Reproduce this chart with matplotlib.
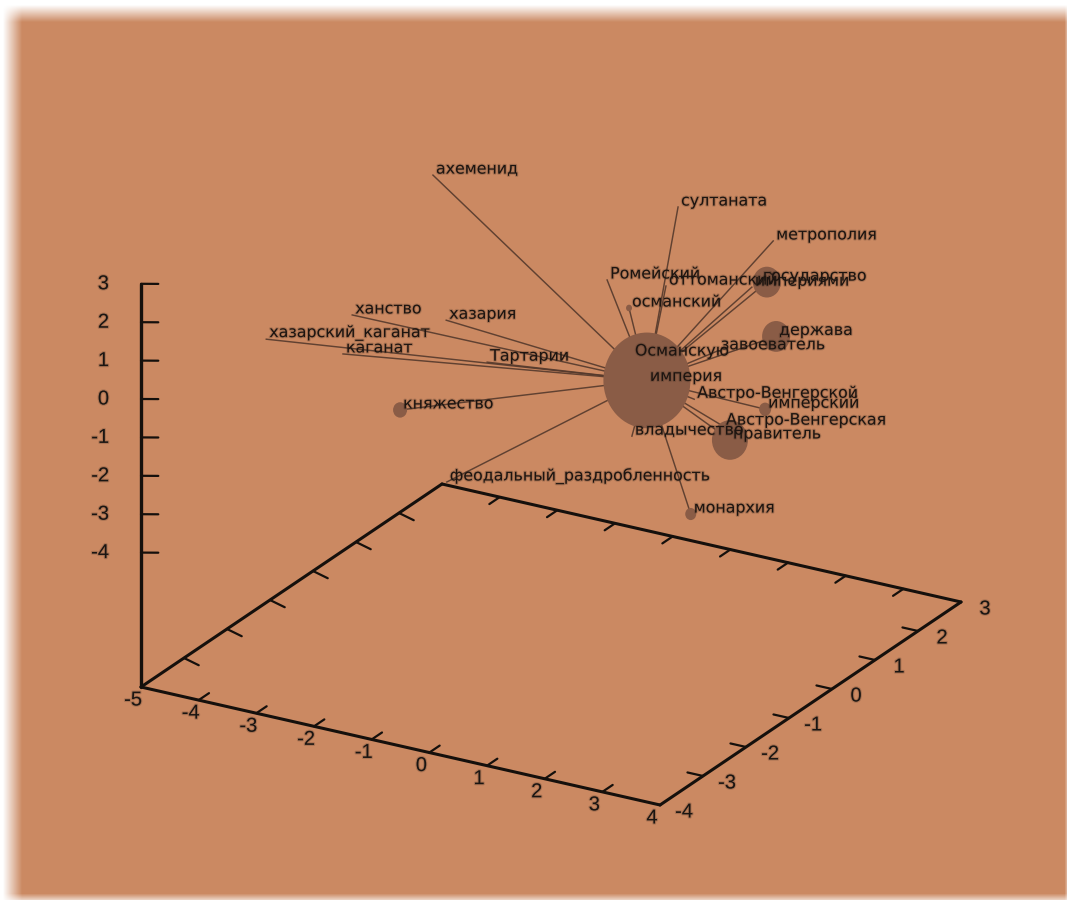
import numpy as np
import matplotlib
matplotlib.use("Agg")
import matplotlib.pyplot as plt
import matplotlib.patheffects as pe
from matplotlib.patches import Ellipse

# word cloud around "империя"
# depth can't be read from a flat picture, so nodes sit on the y=0 plane
words = ["ахеменид", "султаната", "метрополия", "оттоманский", "империями", "государство",
         "Ромейский", "османский", "держава", "завоеватель", "Османскую", "империя",
         "Австро-Венгерской", "имперский", "Австро-Венгерская", "правитель", "владычество",
         "монархия", "феодальный_раздробленность", "княжество", "Тартарии", "хазария",
         "ханство", "хазарский_каганат", "каганат"]
node_x = [-2.92, 1.33, 2.98, 1.12, 2.61, 2.87, 0.10, 0.48, 3.03, 2.02, 0.53, 0.79,
          1.61, 2.84, 2.11, 2.23, 0.53, 1.55, -2.68, -3.49, -1.98, -2.69, -4.32, -5.81, -4.48]
node_z = [3.52, 4.14, 3.82, 2.01, 2.49, 2.71, 1.82, 1.22, 1.35, 0.63, -0.04, -0.56,
          -0.77, -0.61, -1.30, -1.62, -2.10, -3.78, -4.39, -2.79, -1.03, -0.18, -0.60, -1.74, -1.67]
node_size = [1, 1, 1, 1, 1, 14, 1, 3, 14, 1, 1, 43.5, 1, 6, 1, 18, 1, 5.5, 1, 7, 1, 1, 1, 1, 1]
center_x, center_z = 0.79, -0.56

x_ticks = [-5, -4, -3, -2, -1, 0, 1, 2, 3, 4]
y_ticks = [-4, -3, -2, -1, 0, 1, 2, 3]
z_ticks = [-4, -3, -2, -1, 0, 1, 2, 3]
z_floor = -7.5

bg = "#CB8962"
edge_color = "#54392C"
node_color = "#8A5C46"
ink = "#15100c"


def project(x, y, z):
    # gnuplot style oblique view, pixels on the page
    px = 141 + (x + 5) * 57.67 + (y + 4) * 43
    py = 687 + (x + 5) * 13.11 - (y + 4) * 29 - (z - z_floor) * 38.4
    return px, py


def seg(ax, a, b, **kw):
    pa = project(*a)
    pb = project(*b)
    ax.plot([pa[0], pb[0]], [pa[1], pb[1]], solid_capstyle="round", **kw)


def tick_text(ax, px, py, s, ha="center"):
    ax.text(px, py, s, ha=ha, va="center", fontsize=14.5,
            fontfamily=["Liberation Sans", "DejaVu Sans"], color="#1a1512",
            path_effects=soft)


soft = [pe.withStroke(linewidth=1.6, foreground="#3a2a20", alpha=0.22)]

fig = plt.figure(figsize=(10.67, 9), dpi=100, facecolor="white")
ax = fig.add_axes([0, 0, 1, 1])
ax.set_xlim(0, 1067)
ax.set_ylim(900, 0)
ax.axis("off")

# soft white edge of the page
gx = np.arange(1067) + 0.5
gy = np.arange(900) + 0.5
ax_alpha = np.clip((gx - 3) / 19, 0, 1) * np.clip((1067 - gx) / 6 + 0.6, 0, 1)
ay_alpha = np.clip((gy - 5) / 17, 0, 1) * np.clip((900 - gy) / 10 + 0.35, 0, 1)
page = np.zeros((900, 1067, 4))
page[..., :3] = matplotlib.colors.to_rgb(bg)
page[..., 3] = np.outer(ay_alpha, ax_alpha)
ax.imshow(page, extent=(0, 1067, 900, 0), aspect="auto", zorder=0)

# box floor and z axis
axis_kw = dict(color=ink, lw=2.2, zorder=2)
y0, y1 = y_ticks[0], y_ticks[-1]
x0, x1 = x_ticks[0], x_ticks[-1]
seg(ax, (x0, y0, z_floor), (x1, y0, z_floor), **axis_kw)
seg(ax, (x1, y0, z_floor), (x1, y1, z_floor), **axis_kw)
seg(ax, (x1, y1, z_floor), (x0, y1, z_floor), **axis_kw)
seg(ax, (x0, y1, z_floor), (x0, y0, z_floor), **axis_kw)
seg(ax, (x0, y0, z_floor), (x0, y0, z_ticks[-1]), color=ink, lw=2.4, zorder=2)

tick_kw = dict(color=ink, lw=1.6, zorder=2)
for t in x_ticks:
    if t not in (x0, x1):
        seg(ax, (t, y0, z_floor), (t, y0 + 0.24, z_floor), **tick_kw)
        seg(ax, (t, y1, z_floor), (t, y1 - 0.24, z_floor), **tick_kw)
    px, py = project(t, y0, z_floor)
    tick_text(ax, px - 8, py + 13, str(t))
for t in y_ticks:
    if t not in (y0, y1):
        seg(ax, (x0, t, z_floor), (x0 + 0.33, t - 0.1, z_floor), **tick_kw)
        seg(ax, (x1, t, z_floor), (x1 - 0.27, t, z_floor), **tick_kw)
    px, py = project(x1, t, z_floor)
    tick_text(ax, px + 24, py + 7, str(t))
for t in z_ticks:
    seg(ax, (x0, y0, t), (x0 + 0.3, y0, t + 0.1), **tick_kw)
    px, py = project(x0, y0, t)
    tick_text(ax, px - 32, py, str(t), ha="right")

# edges from the hub, then nodes, then labels
cx, cy = project(center_x, 0, center_z)
for wx, wz in zip(node_x, node_z):
    px, py = project(wx, 0, wz)
    ax.plot([cx, px], [cy, py], color=edge_color, lw=1.05, alpha=0.9, zorder=3)

for wx, wz, r in zip(node_x, node_z, node_size):
    px, py = project(wx, 0, wz)
    if r > 1:
        ax.add_patch(Ellipse((px, py), 2 * r, 2.2 * r, facecolor=node_color, lw=0, zorder=4))

for w, wx, wz in zip(words, node_x, node_z):
    px, py = project(wx, 0, wz)
    ox = -4 if w == "государство" else 3
    oy = -4 if w == "империя" else -6
    ax.text(px + ox, py + oy, w, ha="left", va="center", fontsize=11.4,
            fontfamily="DejaVu Sans", color="#1c1410", zorder=5, path_effects=soft)

fig.savefig("out.png", dpi=100, facecolor="white")
